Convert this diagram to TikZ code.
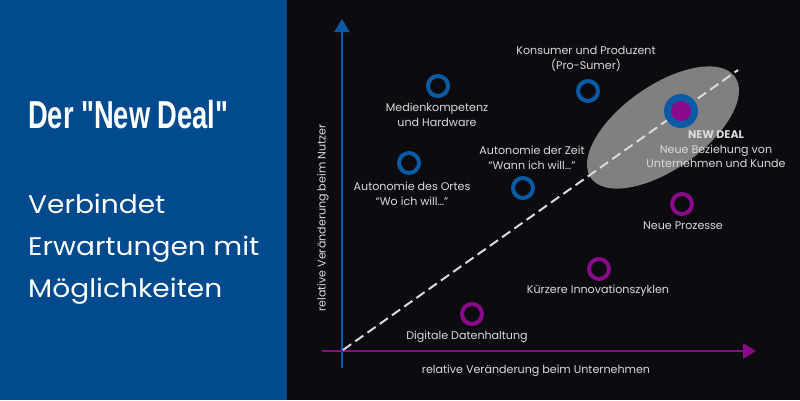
\documentclass[tikz,border=0pt]{standalone}
\usepackage{fontspec}
\setmainfont{Poppins}
\newfontfamily\titlefont[FakeStretch=0.7]{Liberation Sans}
\newfontfamily\subfont[FakeStretch=1.1]{Poppins}
\usetikzlibrary{arrows.meta,shapes.geometric}
\definecolor{leftblue}{HTML}{014A8E}
\definecolor{darkbg}{HTML}{0C0C10}
\definecolor{ringblue}{HTML}{0B5AA6}
\definecolor{ringpurple}{HTML}{8A0A8C}
\definecolor{labelgrey}{HTML}{DADADA}
\definecolor{ellgrey}{HTML}{808080}
\tikzset{
  bring/.style={circle,draw=ringblue,line width=4pt,minimum size=20pt,inner sep=0pt},
  pring/.style={circle,draw=ringpurple,line width=4pt,minimum size=20pt,inner sep=0pt},
  lbl/.style={text=labelgrey,font=\fontsize{11.1}{14.5}\selectfont,align=center,inner sep=0pt},
  subtxt/.style={anchor=base west,inner sep=0pt,text=white,font=\subfont\fontsize{25.5}{42}\selectfont},
  axis/.style={line width=2.2pt,-{Triangle[length=13pt,width=15pt]}},
}
\begin{document}
\begin{tikzpicture}[x=1pt,y=-1pt]
\useasboundingbox (0,0) rectangle (800,400);
\fill[darkbg] (0,0) rectangle (800,400);
\fill[leftblue] (0,0) rectangle (287,400);
% left text
\node[anchor=base west,inner sep=0pt,text=white,font=\titlefont\bfseries\fontsize{39}{44}\selectfont] (title) at (28,128) {Der "New Deal"};
\node[subtxt] (sub1) at (28,213) {Verbindet};
\node[subtxt] (sub2) at (28,255) {Erwartungen mit};
\node[subtxt] (sub3) at (28,297) {Möglichkeiten};
% ellipse
\node[ellipse,fill=ellgrey,minimum width=176pt,minimum height=84pt,inner sep=0pt,rotate=35] (ell) at (663,127.5) {};
% axes
\coordinate (ybot) at (342,368);
\coordinate (ytop) at (342,19);
\coordinate (xleft) at (322,351);
\coordinate (xright) at (756,351);
\draw[axis,ringblue] (ybot) -- (ytop);
\draw[axis,ringpurple] (xleft) -- (xright);
% dashed diagonal
\coordinate (d0) at (343,350);
\coordinate (d1) at (738,70);
\draw[labelgrey,line width=2pt,dash pattern=on 10pt off 5pt] (d0) -- (d1);
% new deal circle
\node[circle,fill=ringblue,minimum size=34pt,inner sep=0pt] (nd) at (681,111) {};
\node[circle,fill=ringpurple,minimum size=20pt,inner sep=0pt] (ndin) at (681,111) {};
% rings
\node[bring] (med) at (438,86) {};
\node[bring] (ort) at (409,163) {};
\node[bring] (zeit) at (523,188) {};
\node[bring] (kons) at (588,91) {};
\node[pring] (proz) at (682,204) {};
\node[pring] (inno) at (599,269) {};
\node[pring] (daten) at (472,314) {};
% labels
\node[lbl] (lkons) at (586,59) {Konsumer und Produzent\\(Pro-Sumer)};
\node[lbl] (lmed) at (437,115) {Medienkompetenz\\und Hardware};
\node[lbl] (lzeit) at (532,158) {Autonomie der Zeit\\“Wann ich will…”};
\node[lbl] (lort) at (412,194) {Autonomie des Ortes\\“Wo ich will…”};
\node[lbl] (lnd) at (716,149.5) {\textbf{NEW DEAL}\\Neue Beziehung von\\Unternehmen und Kunde};
\node[lbl] (lproz) at (683,226) {Neue Prozesse};
\node[lbl] (linno) at (598,291) {Kürzere Innovationszyklen};
\node[lbl] (ldaten) at (467,337) {Digitale Datenhaltung};
\node[lbl] (lx) at (536,371) {relative Veränderung beim Unternehmen};
\node[lbl,rotate=90] (ly) at (323,218) {relative Veränderung beim Nutzer};
\end{tikzpicture}
\end{document}
